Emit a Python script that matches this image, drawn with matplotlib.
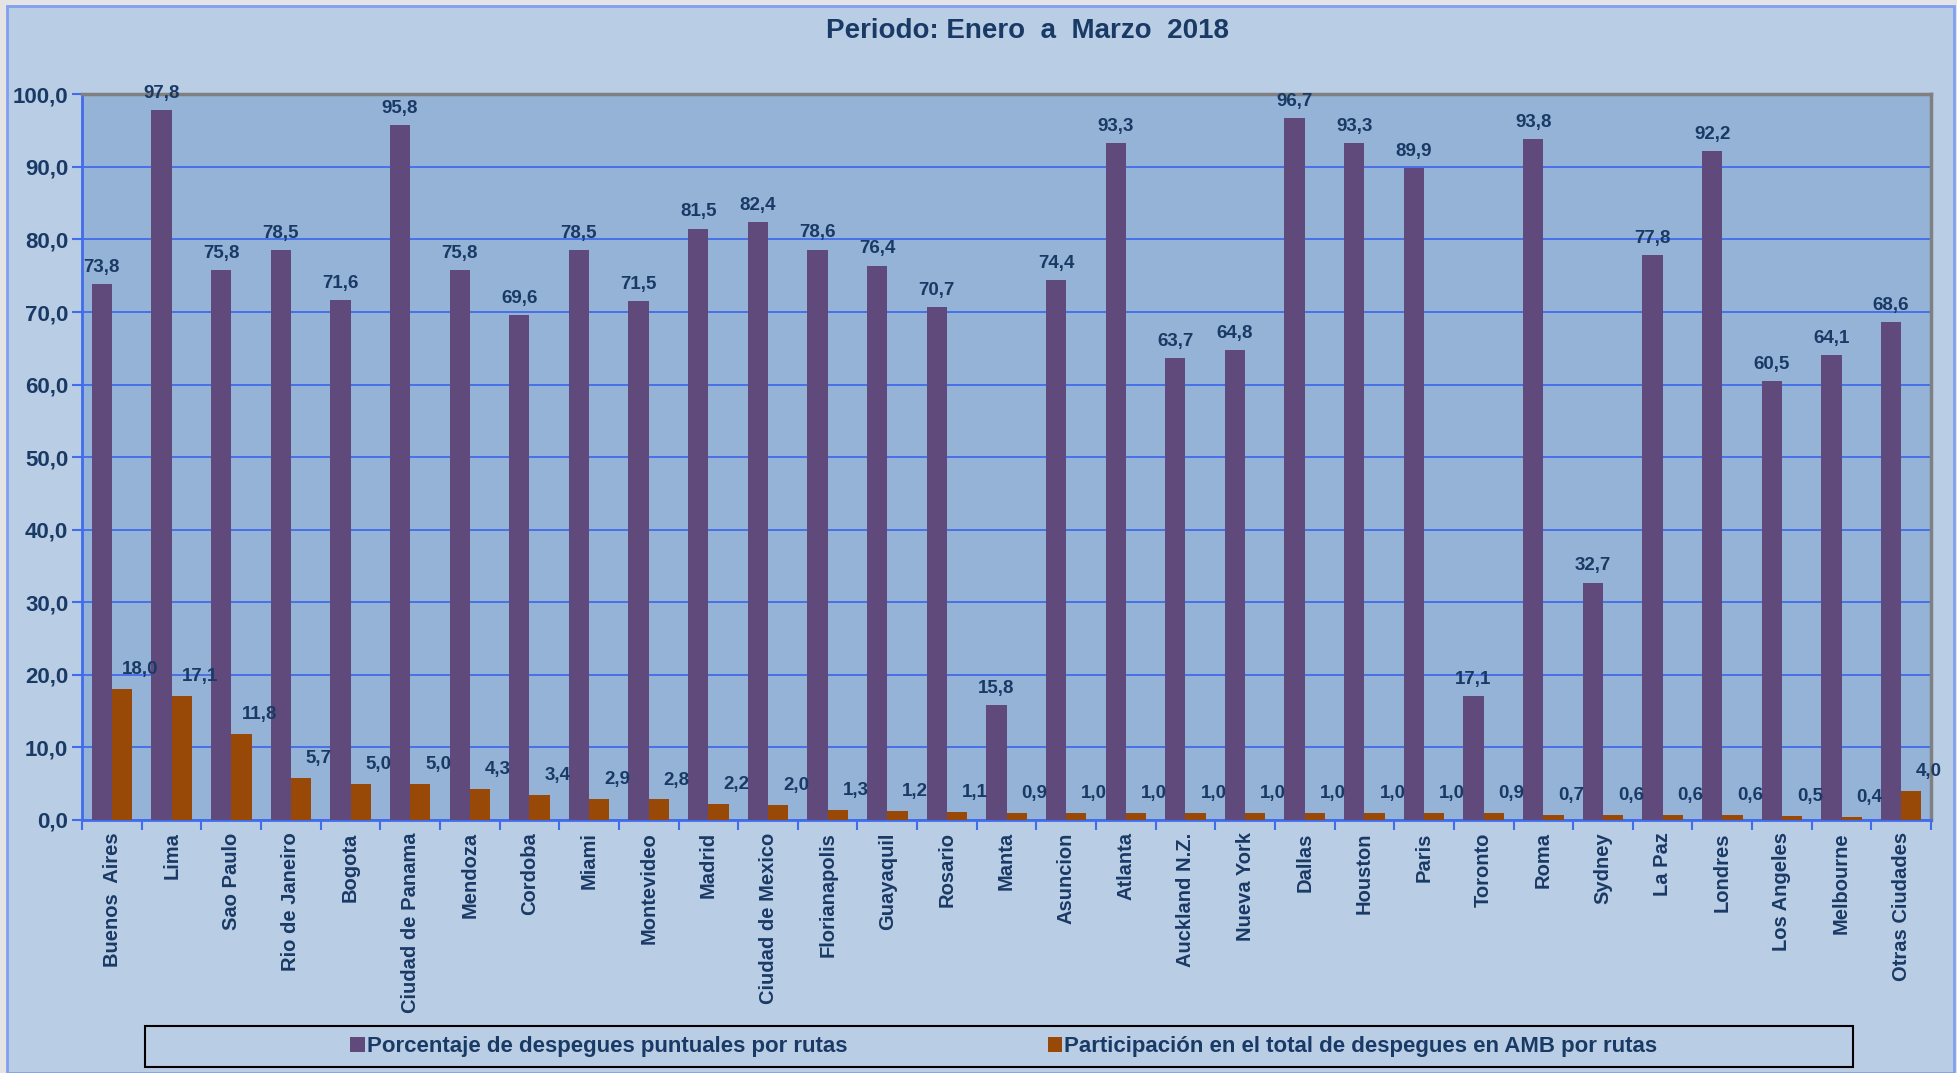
import numpy as np
import matplotlib
matplotlib.use('Agg')
import matplotlib.pyplot as plt
from matplotlib.patches import Rectangle, Patch
from matplotlib.ticker import FuncFormatter

ciudades = ["Buenos  Aires", "Lima", "Sao Paulo", "Rio de Janeiro", "Bogota", "Ciudad de Panama",
            "Mendoza", "Cordoba", "Miami", "Montevideo", "Madrid", "Ciudad de Mexico",
            "Florianapolis", "Guayaquil", "Rosario", "Manta", "Asuncion", "Atlanta",
            "Auckland N.Z.", "Nueva York", "Dallas", "Houston", "Paris", "Toronto", "Roma",
            "Sydney", "La Paz", "Londres", "Los Angeles", "Melbourne", "Otras Ciudades"]
puntuales = [73.8, 97.8, 75.8, 78.5, 71.6, 95.8, 75.8, 69.6, 78.5, 71.5, 81.5, 82.4, 78.6, 76.4,
             70.7, 15.8, 74.4, 93.3, 63.7, 64.8, 96.7, 93.3, 89.9, 17.1, 93.8, 32.7, 77.8, 92.2,
             60.5, 64.1, 68.6]
participacion = [18.0, 17.1, 11.8, 5.7, 5.0, 5.0, 4.3, 3.4, 2.9, 2.8, 2.2, 2.0, 1.3, 1.2, 1.1,
                 0.9, 1.0, 1.0, 1.0, 1.0, 1.0, 1.0, 1.0, 0.9, 0.7, 0.6, 0.6, 0.6, 0.5, 0.4, 4.0]
titulo = "Periodo: Enero  a  Marzo  2018"
leyenda = ["Porcentaje de despegues puntuales por rutas",
           "Participación en el total de despegues en AMB por rutas"]

PURPLE = "#604A7B"
ORANGE = "#984807"
TEXT = "#1A3A66"
GRID = "#416CEB"
NARROW = ['Liberation Sans Narrow', 'Liberation Sans', 'DejaVu Sans']
WIDE = ['Liberation Sans', 'DejaVu Sans']


def fmt(v):
    return "{:.1f}".format(v).replace(".", ",")


fig = plt.figure(figsize=(19.57, 10.73), dpi=100)
fig.patch.set_facecolor("#E4E4E4")
# chart area background with blue border
fig.patches.append(Rectangle((0.0036, 0.0), 0.995, 0.9945, transform=fig.transFigure,
                             facecolor="#B9CDE5", edgecolor="#7F9FEF", lw=2, zorder=-5))

ax = fig.add_axes([0.042, 0.236, 0.9447, 0.676])
ax.set_zorder(2)
ax.set_facecolor("#95B3D7")

x = np.arange(len(ciudades))
w = 0.34
ax.bar(x - w / 2, puntuales, width=w, color=PURPLE, zorder=3)
ax.bar(x + w / 2, participacion, width=w, color=ORANGE, zorder=3)

for i, v in enumerate(puntuales):
    ax.annotate(fmt(v), (x[i] - w / 2, v), xytext=(0, 12), textcoords="offset points",
                ha="center", va="center", fontsize=13.5, fontweight="bold", color=TEXT,
                family=NARROW)
for i, v in enumerate(participacion):
    ax.annotate(fmt(v), (x[i] + w / 2 + 0.3, v), xytext=(0, 14), textcoords="offset points",
                ha="center", va="center", fontsize=13.5, fontweight="bold", color=TEXT,
                family=NARROW)

ax.set_xlim(-0.5, len(ciudades) - 0.5)
ax.set_ylim(0, 100)
ax.set_yticks(np.arange(0, 101, 10))
ax.yaxis.set_major_formatter(FuncFormatter(lambda v, p: fmt(v)))
ax.grid(axis="y", color=GRID, lw=1.3, zorder=1)
ax.set_axisbelow(True)

ax.set_xticks(x)
ax.set_xticklabels(ciudades, rotation=90, fontsize=14.5, fontweight="bold", color=TEXT,
                   family=WIDE)
ax.set_xticks(np.arange(-0.5, len(ciudades)), minor=True)
ax.tick_params(axis="x", which="major", length=0, pad=9)
ax.tick_params(axis="x", which="minor", length=7, color=GRID, width=1.5)
ax.tick_params(axis="y", length=7, color=GRID, width=1.5, pad=3)
for lab in ax.get_yticklabels():
    lab.set_fontsize(16)
    lab.set_fontweight("bold")
    lab.set_color(TEXT)
    lab.set_family(NARROW)

for s in ["left", "bottom"]:
    ax.spines[s].set_color(GRID)
    ax.spines[s].set_linewidth(2)
for s in ["top", "right"]:
    ax.spines[s].set_color("#808080")
    ax.spines[s].set_linewidth(2.5)

fig.text(0.525, 0.971, titulo, ha="center", va="center", fontsize=20, fontweight="bold",
         color=TEXT, family=WIDE)

# legend frame
fig.patches.append(Rectangle((0.074, 0.0056), 0.873, 0.0382, transform=fig.transFigure,
                             facecolor="none", edgecolor="black", lw=1.5, zorder=5))
handles = [Patch(facecolor=PURPLE), Patch(facecolor=ORANGE)]
fig.legend(handles, leyenda, loc="center", bbox_to_anchor=(0.513, 0.0247), ncol=2,
           frameon=False, handlelength=0.65, handleheight=0.65, handletextpad=0.1,
           columnspacing=9.0, prop={"family": NARROW, "weight": "bold", "size": 16},
           labelcolor=TEXT)

fig.savefig("out.png", dpi=100, facecolor=fig.get_facecolor())
